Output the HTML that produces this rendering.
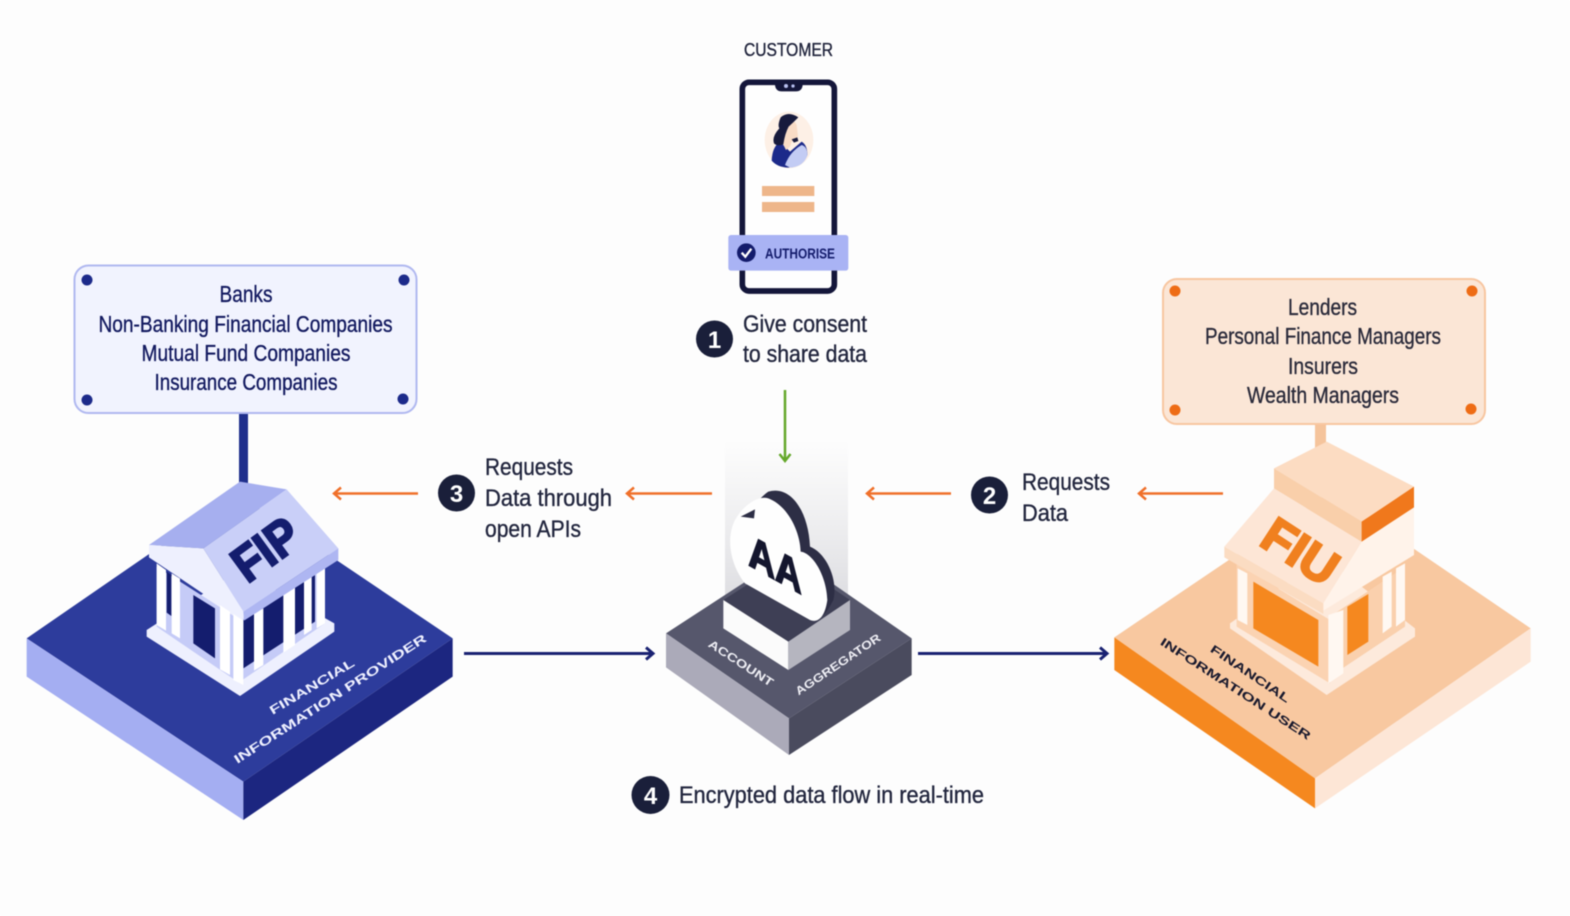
<!DOCTYPE html>
<html lang="en">
<head>
<meta charset="utf-8">
<title>Account Aggregator data flow</title>
<style>
html,body{margin:0;padding:0;background:#fdfdfd;width:1570px;height:916px;overflow:hidden}
svg{display:block;filter:blur(0.4px)}
text{font-family:"Liberation Sans",sans-serif}
.t text{stroke:currentColor;stroke-width:.35px}
</style>
</head>
<body>
<svg width="1570" height="916" viewBox="0 0 1570 916" xmlns="http://www.w3.org/2000/svg">
<defs>
<linearGradient id="beam" x1="0" y1="0" x2="0" y2="1">
<stop offset="0" stop-color="#e3e3e6" stop-opacity="0"/>
<stop offset="1" stop-color="#dcdce0"/>
</linearGradient>
</defs>
<rect width="1570" height="916" fill="#fdfdfd"/>

<!-- FIP info box -->
<rect x="239" y="410" width="9" height="75" fill="#1f2f8c"/>
<rect x="74.500" y="265.500" width="342" height="147.500" rx="14" fill="#f1f3fe" stroke="#b0b8f0" stroke-width="2"/>
<g fill="#1c2a8a"><circle cx="87" cy="280" r="5.500"/><circle cx="404" cy="280" r="5.500"/><circle cx="87" cy="400" r="5.500"/><circle cx="403" cy="399" r="5.500"/></g>
<g class="t" fill="#12195f" color="#12195f" font-size="23">
<text x="219.500" y="302" textLength="53" lengthAdjust="spacingAndGlyphs">Banks</text>
<text x="98.500" y="332" textLength="294" lengthAdjust="spacingAndGlyphs">Non-Banking Financial Companies</text>
<text x="141.500" y="361" textLength="209" lengthAdjust="spacingAndGlyphs">Mutual Fund Companies</text>
<text x="154.500" y="390" textLength="183" lengthAdjust="spacingAndGlyphs">Insurance Companies</text>
</g>

<!-- FIU info box -->
<rect x="1315" y="422" width="11" height="26" fill="#f5c49c"/>
<rect x="1163" y="279" width="322" height="145" rx="14" fill="#fbe6d6" stroke="#f8c6a0" stroke-width="2"/>
<g fill="#ee6c15"><circle cx="1175" cy="291" r="5.500"/><circle cx="1472" cy="291" r="5.500"/><circle cx="1175" cy="410" r="5.500"/><circle cx="1471" cy="409" r="5.500"/></g>
<g class="t" fill="#2a2a3a" color="#2a2a3a" font-size="23">
<text x="1288" y="315" textLength="69" lengthAdjust="spacingAndGlyphs">Lenders</text>
<text x="1205" y="344" textLength="236" lengthAdjust="spacingAndGlyphs">Personal Finance Managers</text>
<text x="1288" y="374" textLength="70" lengthAdjust="spacingAndGlyphs">Insurers</text>
<text x="1247" y="403" textLength="152" lengthAdjust="spacingAndGlyphs">Wealth Managers</text>
</g>

<!-- Phone -->
<g class="t" color="#20243c"><text x="744" y="56" font-size="18" fill="#20243c" textLength="89" lengthAdjust="spacingAndGlyphs">CUSTOMER</text></g>
<g transform="translate(690,30) scale(0.33333)">
<rect x="157" y="157" width="276" height="626" rx="20" fill="#fefefe" stroke="#14163a" stroke-width="17"/>
<path d="M255 155H338V165Q336 184 318 184H275Q257 184 255 165Z" fill="#14163a"/>
<circle cx="288" cy="168" r="6" fill="#b8c0f0"/><circle cx="309" cy="168" r="5" fill="#b8c0f0"/>
<ellipse cx="297" cy="330" rx="73" ry="85" fill="#fdf0e6"/>
<path d="M245 392Q247 350 270 335L300 365 335 335Q352 345 352 375 340 410 295 413 262 412 245 392Z" fill="#1c2a8a"/>
<path d="M285 405Q300 365 335 345 352 350 352 375 342 410 300 413Z" fill="#c3ccf4"/>
<path d="M285 272Q310 262 320 285L324 320 305 335 300 350 288 360 278 340Z" fill="#f9dcc6"/>
<path d="M325 262Q295 242 272 262 262 285 268 295 245 320 252 340 262 350 280 343 285 310 296 290 312 275 325 262Z" fill="#171a3c"/>
<path d="M305 328L322 322 325 333 312 338Z" fill="#171a3c"/>
<rect x="216" y="468" width="157" height="30" fill="#eeb68a"/>
<rect x="216" y="516" width="157" height="30" fill="#eeb68a"/>
<rect x="115" y="615" width="360" height="107" rx="8" fill="#a9b3f4"/>
<circle cx="169" cy="668" r="28" fill="#141c6c"/>
<path d="M155 668L166 680 184 656" fill="none" stroke="#fff" stroke-width="7"/>
<text x="225" y="685" font-size="44" font-weight="700" fill="#141c6c" textLength="210" lengthAdjust="spacingAndGlyphs">AUTHORISE</text>
</g>

<!-- Beam behind AA -->
<rect x="725" y="440" width="123" height="165" fill="url(#beam)"/>

<!-- Step text -->
<g fill="#1a1f3a">
<circle cx="714.500" cy="339" r="18.500"/><circle cx="989.500" cy="495" r="18.500"/><circle cx="456.500" cy="493" r="18.500"/><circle cx="650.500" cy="795" r="19"/>
</g>
<g fill="#fff" font-size="24" font-weight="700" text-anchor="middle">
<text x="714.500" y="348">1</text><text x="989.500" y="504">2</text><text x="456.500" y="502">3</text><text x="650.500" y="804">4</text>
</g>
<g class="t" fill="#22263e" color="#22263e" font-size="24">
<text x="743" y="332" textLength="124" lengthAdjust="spacingAndGlyphs">Give consent</text>
<text x="743" y="362" textLength="124" lengthAdjust="spacingAndGlyphs">to share data</text>
<text x="485" y="475" textLength="88" lengthAdjust="spacingAndGlyphs">Requests</text>
<text x="485" y="506" textLength="127" lengthAdjust="spacingAndGlyphs">Data through</text>
<text x="485" y="537" textLength="96" lengthAdjust="spacingAndGlyphs">open APIs</text>
<text x="1022" y="490" textLength="88" lengthAdjust="spacingAndGlyphs">Requests</text>
<text x="1022" y="521" textLength="46" lengthAdjust="spacingAndGlyphs">Data</text>
<text x="679" y="803" textLength="305" lengthAdjust="spacingAndGlyphs">Encrypted data flow in real-time</text>
</g>

<!-- Arrows -->
<g fill="none" stroke="#f0702a" stroke-width="2.500">
<path d="M418 493.500H335M341 487.500L334 493.500 341 499.500"/>
<path d="M712 493.500H628M634 487.500L627 493.500 634 499.500"/>
<path d="M951 493.500H868M874 487.500L867 493.500 874 499.500"/>
<path d="M1223 493.500H1140M1146 487.500L1139 493.500 1146 499.500"/>
</g>
<path d="M785 390V460M779.500 454L785 461 790.500 454" fill="none" stroke="#64a82a" stroke-width="2.500"/>
<g fill="none" stroke="#1a2272" stroke-width="3">
<path d="M464 653.500H652M646 647.500L653 653.500 646 659.500"/>
<path d="M918 653.500H1106M1100 647.500L1107 653.500 1100 659.500"/>
</g>

<!-- FIP -->
<g transform="translate(0,460) scale(0.33333)">
<polygon points="80,535 712,100 1358,535 730,965" fill="#2d3c9c"/>
<polygon points="80,535 730,965 730,1080 80,650" fill="#a4aef2"/>
<polygon points="730,965 1358,535 1358,650 730,1080" fill="#1c2680"/>
<polygon points="440,510 720,330 1003,490 1003,515 720,708 440,530" fill="#eef0fe"/>
<polygon points="470,320 720,480 720,670 470,500" fill="#c5cbf7"/>
<polygon points="720,480 975,320 975,490 720,665" fill="#c5cbf7"/>
<polygon points="580,405 645,445 645,595 580,550" fill="#141d6e"/>
<polygon points="500,335 514,345 514,468 500,458" fill="#141d6e"/>
<polygon points="730,480 945,345 945,485 730,625" fill="#141d6e"/>
<g fill="#fff">
<polygon points="470,310 498,330 498,512 470,495"/>
<polygon points="515,340 540,356 540,535 515,520"/>
<polygon points="660,435 690,455 690,645 660,628"/>
<polygon points="700,460 730,480 730,675 700,660"/>
<polygon points="762,460 790,445 790,615 762,632"/>
<polygon points="850,400 885,380 885,555 850,578"/>
<polygon points="912,365 935,350 935,510 912,525"/>
<polygon points="950,340 975,325 975,490 950,505"/>
</g>
<polygon points="447,255 720,65 860,88 610,265" fill="#a6afef"/>
<polygon points="860,88 1015,265 730,455 610,265" fill="#c9cff8"/>
<polygon points="447,255 610,265 730,455 730,482 447,292" fill="#eef0fe"/>
<polygon points="730,455 1015,265 1015,300 732,482" fill="#aeb6f2"/>
<text transform="translate(742,372) rotate(-36)" font-size="150" font-weight="700" fill="#141d6e" stroke="#141d6e" stroke-width="7" textLength="212" lengthAdjust="spacingAndGlyphs">FIP</text>
<g fill="#eef0ff" font-size="37" font-weight="700">
<text transform="translate(818,765) rotate(-31)" textLength="290" lengthAdjust="spacingAndGlyphs">FINANCIAL</text>
<text transform="translate(712,912) rotate(-33)" textLength="680" lengthAdjust="spacingAndGlyphs">INFORMATION PROVIDER</text>
</g>
</g>

<!-- AA -->
<g transform="translate(640,430) scale(0.33333)">
<polygon points="78,610 447,370 815,625 447,865" fill="#56576c"/>
<polygon points="78,610 447,865 447,975 78,712" fill="#abaab9"/>
<polygon points="447,865 815,625 815,735 447,975" fill="#4a4b5e"/>
<polygon points="250,510 445,385 630,510 445,635" fill="#3e3f55"/>
<polygon points="250,510 445,635 445,720 250,595" fill="#fbfbfb"/>
<polygon points="445,635 630,510 630,600 445,720" fill="#b5b5bf"/>
<path d="M330 430C300 330 320 230 385 185 450 165 505 240 510 350 560 370 595 450 580 510 560 550 540 570 520 570Z" fill="#2d2e45"/>
<path d="M315 460C275 410 255 330 285 270 310 225 355 195 385 205 440 225 480 300 482 365 520 370 560 440 562 510 555 560 535 580 510 570Z" fill="#fefefe"/>
<polygon points="302,260 345,238 342,265" fill="#2d2e45"/>
<text transform="translate(325,405) skewY(29)" font-size="135" font-weight="700" fill="#14162e" stroke="#14162e" stroke-width="5" textLength="160" lengthAdjust="spacingAndGlyphs">AA</text>
<g fill="#eeeef4" font-size="35" font-weight="700">
<text transform="translate(202,648) rotate(33)" textLength="225" lengthAdjust="spacingAndGlyphs">ACCOUNT</text>
<text transform="translate(476,797) rotate(-34)" textLength="300" lengthAdjust="spacingAndGlyphs">AGGREGATOR</text>
</g>
</g>

<!-- FIU -->
<g transform="translate(1090,420) scale(0.33333)">
<polygon points="73,652 720,215 1322,625 675,1075" fill="#f8c8a0"/>
<polygon points="73,652 675,1075 675,1165 73,750" fill="#f5881f"/>
<polygon points="675,1075 1322,625 1322,725 675,1165" fill="#fde6d6"/>
<polygon points="420,610 700,410 975,625 975,650 710,825 420,625" fill="#fdeadc"/>
<polygon points="440,430 720,600 720,790 440,620" fill="#fbd3b2"/>
<polygon points="720,590 945,440 945,620 720,770" fill="#fad0ad"/>
<polygon points="490,485 685,600 685,740 490,625" fill="#f5881f"/>
<polygon points="772,560 835,522 835,665 772,705" fill="#f5881f"/>
<g fill="#fff8f2">
<polygon points="443,445 472,460 472,615 443,600"/>
<polygon points="715,585 760,570 760,760 715,790"/>
<polygon points="878,470 905,455 905,620 878,640"/>
<polygon points="918,445 945,430 945,600 918,620"/>
</g>
<polygon points="552,205 815,365 700,550 403,380" fill="#fde6d6"/>
<polygon points="815,365 972,262 972,405 700,572 700,550" fill="#fff3ea"/>
<polygon points="403,380 700,550 700,582 403,412" fill="#fbdcc2"/>
<polygon points="552,145 710,65 972,200 815,305" fill="#fcdcc2"/>
<polygon points="552,145 815,305 815,365 552,205" fill="#f9cfaa"/>
<polygon points="815,305 972,200 972,262 815,365" fill="#f0781c"/>
<text transform="translate(503,372) rotate(33)" font-size="148" font-weight="700" fill="#f0801f" stroke="#f0801f" stroke-width="7" textLength="240" lengthAdjust="spacingAndGlyphs">FIU</text>
<g fill="#1a1a2e" font-size="35" font-weight="700">
<text transform="translate(358,693) rotate(34)" textLength="280" lengthAdjust="spacingAndGlyphs">FINANCIAL</text>
<text transform="translate(208,672) rotate(33)" textLength="530" lengthAdjust="spacingAndGlyphs">INFORMATION USER</text>
</g>
</g>
</svg>
</body>
</html>
